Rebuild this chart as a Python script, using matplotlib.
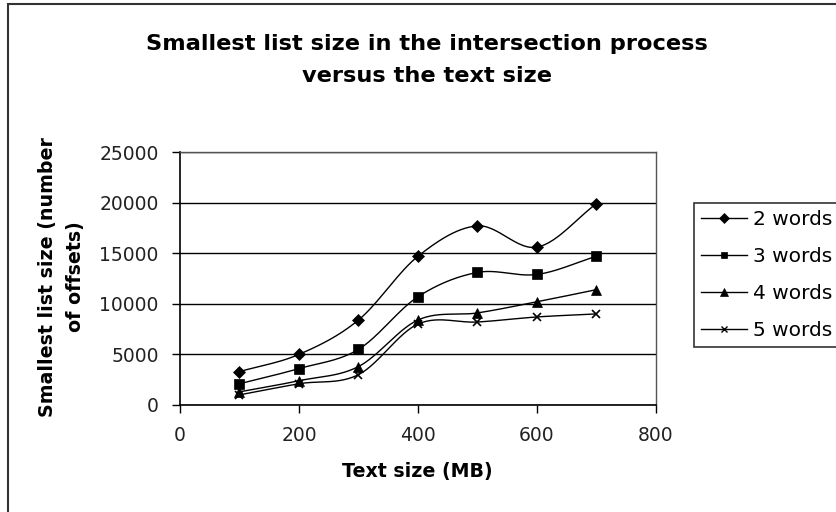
import numpy as np
import matplotlib
matplotlib.use("Agg")
import matplotlib.pyplot as plt
from matplotlib.patches import Rectangle
from matplotlib.lines import Line2D

text_size = [100, 200, 300, 400, 500, 600, 700]
words2 = [3300, 5000, 8400, 14700, 17700, 15600, 19900]
words3 = [2100, 3600, 5500, 10700, 13100, 12900, 14700]
words4 = [1300, 2400, 3800, 8400, 9100, 10200, 11400]
words5 = [1000, 2100, 3000, 8000, 8200, 8700, 9000]
series_names = ["2 words", "3 words", "4 words", "5 words"]
markers = ["D", "s", "^", "x"]
msizes = [6.5, 6.5, 7, 5.5]

title = "Smallest list size in the intersection process\nversus the text size"
xlabel = "Text size (MB)"
ylabel = "Smallest list size (number\nof offsets)"
xticks = [0, 200, 400, 600, 800]
yticks = [0, 5000, 10000, 15000, 20000, 25000]

W, H = 837, 512
fig = plt.figure(figsize=(W / 100, H / 100), dpi=100)
fig.patch.set_facecolor("white")

ax = fig.add_axes([180 / W, 1 - 405 / H, (656 - 180) / W, (405 - 152) / H])


def smooth(xs, ys, n=30):
    p = np.column_stack([xs, ys]).astype(float)
    m = len(p)
    tang = np.zeros_like(p)
    for i in range(m):
        if i == 0:
            tang[i] = (p[1] - p[0])
        elif i == m - 1:
            tang[i] = (p[-1] - p[-2])
        else:
            tang[i] = (p[i + 1] - p[i - 1]) / 2
    out = []
    t = np.linspace(0, 1, n)
    for i in range(m - 1):
        p0, p1 = p[i], p[i + 1]
        m0, m1 = tang[i], tang[i + 1]
        h00 = 2 * t**3 - 3 * t**2 + 1
        h10 = t**3 - 2 * t**2 + t
        h01 = -2 * t**3 + 3 * t**2
        h11 = t**3 - t**2
        seg = (h00[:, None] * p0 + h10[:, None] * m0 + h01[:, None] * p1 + h11[:, None] * m1)
        out.append(seg if i == 0 else seg[1:])
    c = np.vstack(out)
    return c[:, 0], c[:, 1]


all_series = [words2, words3, words4, words5]
handles = []
for vals, name, mk, ms in zip(all_series, series_names, markers, msizes):
    sx, sy = smooth(text_size, vals)
    ax.plot(sx, sy, color="black", lw=1.0, zorder=3)
    ax.plot(text_size, vals, linestyle="none", marker=mk, markersize=ms,
            color="black", markeredgewidth=1.2 if mk == "x" else 0.5, zorder=4)
    handles.append(Line2D([], [], color="black", lw=1.0, marker=mk,
                          markersize=ms * 0.75, markeredgewidth=1.0 if mk == "x" else 0.5))

ax.set_xlim(0, 800)
ax.set_ylim(0, 25000)
ax.set_xticks(xticks)
ax.set_yticks(yticks)
ax.set_xticklabels([str(v) for v in xticks])
ax.set_yticklabels([str(v) for v in yticks])
ax.grid(axis="y", color="black", lw=1.0, zorder=1)
ax.set_axisbelow(True)
for s in ["top", "right"]:
    ax.spines[s].set_linestyle((0, (1, 1)))
    ax.spines[s].set_color("#555555")
    ax.spines[s].set_linewidth(1.0)
for s in ["left", "bottom"]:
    ax.spines[s].set_color("black")
    ax.spines[s].set_linewidth(1.2)
ax.tick_params(direction="out", length=5.8, width=1, colors="black",
               labelsize=13.5, pad=9.5)
for lab in ax.get_xticklabels() + ax.get_yticklabels():
    lab.set_fontfamily("DejaVu Sans")
    lab.set_color("#222222")

fig.text(427 / W, 1 - 60 / H, title, ha="center", va="center",
         fontsize=16.2, fontweight="bold", family="DejaVu Sans",
         linespacing=1.7)
fig.text(417 / W, 1 - 472 / H, xlabel, ha="center", va="center",
         fontsize=13.7, fontweight="bold", family="DejaVu Sans")
fig.text(62 / W, 1 - 277 / H, ylabel, ha="center", va="center", rotation=90,
         fontsize=13.7, fontweight="bold", family="DejaVu Sans",
         linespacing=1.6)

leg = fig.legend(handles, series_names, loc="upper left",
                 bbox_to_anchor=(694 / W, 1 - 203 / H),
                 prop={"family": "DejaVu Sans", "size": 14.5},
                 frameon=True, fancybox=False, handlelength=2.3,
                 handletextpad=0.3, labelspacing=0.9, borderpad=0.35,
                 borderaxespad=0)
leg.get_frame().set_edgecolor("black")
leg.get_frame().set_linewidth(1.2)

fig.add_artist(Rectangle((8 / W, -0.1), 1.2, (H - 4) / H + 0.1,
                         transform=fig.transFigure, fill=False,
                         ec="#333333", lw=1.5))

fig.savefig("out.png", dpi=100)
